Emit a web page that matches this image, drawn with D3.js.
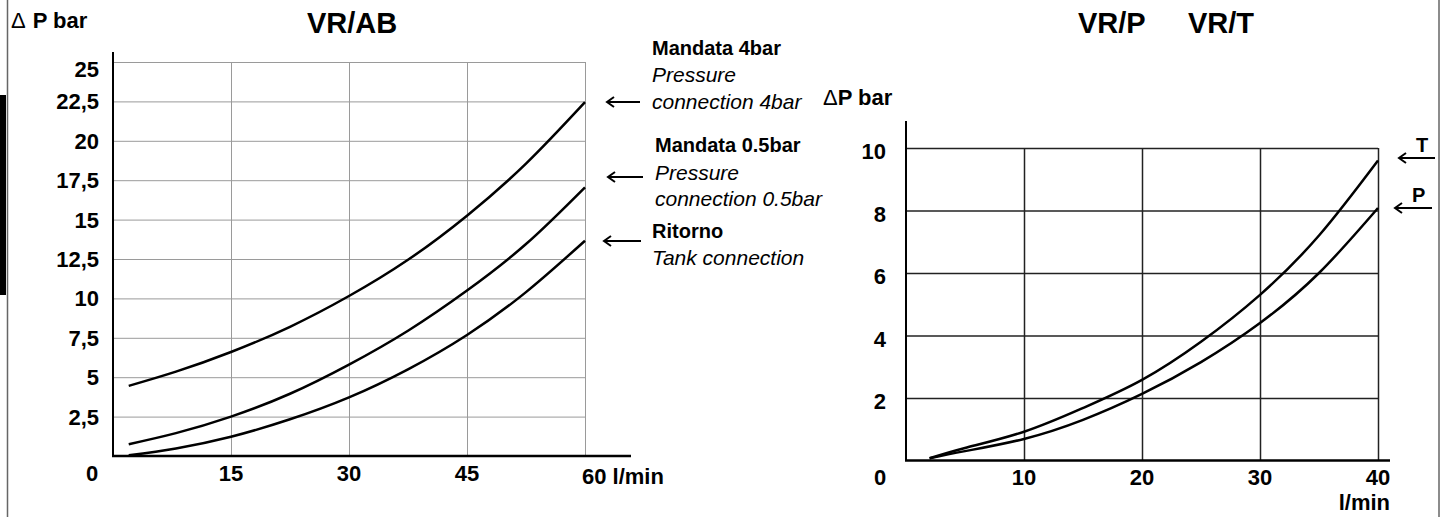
<!DOCTYPE html>
<html>
<head>
<meta charset="utf-8">
<script src="https://cdn.jsdelivr.net/npm/d3@7"></script>
<style>
  html,body{margin:0;padding:0;background:#fff;}
  svg{display:block;}
  text{font-family:"Liberation Sans",Arial,Helvetica,sans-serif;fill:#000;}
</style>
</head>
<body>
<svg id="chart" width="1444" height="517"></svg>
<script>
// ---------- data: VR/AB ----------
const flowAB = [2, 8, 15, 22.5, 30, 37.5, 45, 52.5, 60];
const mandata4 = [4.45, 5.35, 6.6, 8.2, 10.15, 12.45, 15.25, 18.55, 22.45];
const mandata05 = [0.75, 1.45, 2.5, 3.95, 5.8, 7.95, 10.5, 13.45, 17.05];
const ritorno = [0.05, 0.48, 1.22, 2.33, 3.72, 5.5, 7.68, 10.4, 13.66];
const yTicksAB = [2.5, 5, 7.5, 10, 12.5, 15, 17.5, 20, 22.5, 25];
const xTicksAB = [15, 30, 45, 60];

// ---------- data: VR/P VR/T ----------
const flowPT = [2, 5, 10, 15, 20, 25, 30, 35, 40];
const lineT = [0.07, 0.4, 0.92, 1.68, 2.58, 3.8, 5.3, 7.2, 9.6];
const lineP = [0.07, 0.3, 0.69, 1.3, 2.13, 3.15, 4.4, 6.0, 8.08];
const yTicksPT = [2, 4, 6, 8, 10];
const xTicksPT = [10, 20, 30, 40];

const svg = d3.select("#chart");
const FONT = 22;
const ANN = 21;
const TITLE = 29;
const comma = v => String(v).replace(".", ",");

// page border
svg.append("line").attr("x1", 7.5).attr("x2", 7.5).attr("y1", 0).attr("y2", 517)
  .attr("stroke", "#666").attr("stroke-width", 1.5);
svg.append("rect").attr("x", 0).attr("y", 95).attr("width", 6).attr("height", 200).attr("fill", "#000");
svg.append("line").attr("x1", 1439).attr("x2", 1439).attr("y1", 0).attr("y2", 517)
  .attr("stroke", "#666").attr("stroke-width", 1.5);

function arrow(g, x1, x2, y) {
  g.append("line").attr("x1", x1).attr("x2", x2).attr("y1", y).attr("y2", y)
    .attr("stroke", "#000").attr("stroke-width", 2);
  g.append("path").attr("d", `M${x1 + 7},${y - 5} L${x1},${y} L${x1 + 7},${y + 5}`)
    .attr("fill", "none").attr("stroke", "#000").attr("stroke-width", 2);
}

// ================= LEFT CHART =================
const xL = d3.scaleLinear().domain([0, 60]).range([113, 585]);
const yL = d3.scaleLinear().domain([0, 25]).range([456, 62]);
const gL = svg.append("g");

gL.append("g").attr("transform", `translate(${xL(0)},0)`)
  .call(d3.axisLeft(yL).tickValues(yTicksAB).tickSize(-(xL(60) - xL(0))).tickFormat(""))
  .call(g => g.select(".domain").remove())
  .call(g => g.selectAll(".tick line").attr("stroke", "#9a9a9a").attr("stroke-width", 1));
gL.append("g").attr("transform", `translate(0,${yL(0)})`)
  .call(d3.axisBottom(xL).tickValues(xTicksAB).tickSize(-(yL(0) - yL(25))).tickFormat(""))
  .call(g => g.select(".domain").remove())
  .call(g => g.selectAll(".tick line").attr("stroke", "#9a9a9a").attr("stroke-width", 1));

gL.append("line").attr("x1", xL(0)).attr("x2", xL(0)).attr("y1", 52).attr("y2", yL(0))
  .attr("stroke", "#000").attr("stroke-width", 2);
gL.append("line").attr("x1", xL(0) - 1).attr("x2", 631).attr("y1", yL(0)).attr("y2", yL(0))
  .attr("stroke", "#000").attr("stroke-width", 2.5);

gL.selectAll("text.ytl").data(yTicksAB).enter().append("text")
  .attr("x", 99).attr("y", d => yL(d) + 8 + (d === 25 ? 7 : 0))
  .attr("text-anchor", "end").attr("font-weight", "bold").attr("font-size", FONT)
  .text(comma);
gL.selectAll("text.xtl").data(xTicksAB).enter().append("text")
  .attr("x", d => d === 60 ? xL(d) - 3 : xL(d)).attr("y", d => d === 60 ? 484 : 481)
  .attr("text-anchor", d => d === 60 ? "start" : "middle")
  .attr("font-weight", "bold").attr("font-size", FONT)
  .text(d => d === 60 ? d + " l/min" : d);
gL.append("text").attr("x", 92).attr("y", 481).attr("text-anchor", "middle")
  .attr("font-weight", "bold").attr("font-size", FONT).text("0");

const lineL = d3.line().x(d => xL(d[0])).y(d => yL(d[1])).curve(d3.curveNatural);
[mandata4, mandata05, ritorno].forEach(s => {
  gL.append("path").datum(flowAB.map((f, i) => [f, s[i]])).attr("d", lineL)
    .attr("fill", "none").attr("stroke", "#000").attr("stroke-width", 2.5);
});

svg.append("text").attr("x", 11).attr("y", 28).attr("font-size", FONT).attr("font-weight", "bold")
  .call(t => { t.append("tspan").attr("font-weight", "normal").text("\u0394"); t.append("tspan").attr("dx", 7).text("P bar"); });
svg.append("text").attr("x", 352).attr("y", 33).attr("text-anchor", "middle")
  .attr("font-size", TITLE).attr("font-weight", "bold").text("VR/AB");

const ann = [
  { t: "Mandata 4bar", x: 652, y: 48, b: true },
  { t: "Pressure", x: 652, y: 75, b: false },
  { t: "connection 4bar", x: 652, y: 102, b: false },
  { t: "Mandata 0.5bar", x: 655, y: 145, b: true },
  { t: "Pressure", x: 655, y: 173, b: false },
  { t: "connection 0.5bar", x: 655, y: 199, b: false },
  { t: "Ritorno", x: 652, y: 231, b: true },
  { t: "Tank connection", x: 652, y: 258, b: false }
];
svg.selectAll("text.ann").data(ann).enter().append("text")
  .attr("x", d => d.x).attr("y", d => d.y + 7).attr("font-size", d => d.b ? 20 : ANN)
  .attr("font-weight", d => d.b ? "bold" : "normal")
  .attr("font-style", d => d.b ? "normal" : "italic")
  .text(d => d.t);
arrow(svg, 607, 640, 102);
arrow(svg, 608, 643, 177);
arrow(svg, 604, 641, 241);

// ================= RIGHT CHART =================
const xR = d3.scaleLinear().domain([0, 40]).range([906, 1378]);
const yR = d3.scaleLinear().domain([0, 10]).range([460.5, 148]);
const gR = svg.append("g");

gR.append("g").attr("transform", `translate(${xR(0)},0)`)
  .call(d3.axisLeft(yR).tickValues(yTicksPT).tickSize(-(xR(40) - xR(0))).tickFormat(""))
  .call(g => g.select(".domain").remove())
  .call(g => g.selectAll(".tick line").attr("stroke", "#222").attr("stroke-width", 1.5));
gR.append("g").attr("transform", `translate(0,${yR(0)})`)
  .call(d3.axisBottom(xR).tickValues(xTicksPT).tickSize(-(yR(0) - yR(10))).tickFormat(""))
  .call(g => g.select(".domain").remove())
  .call(g => g.selectAll(".tick line").attr("stroke", "#222").attr("stroke-width", 1.5));

gR.append("line").attr("x1", xR(0)).attr("x2", xR(0)).attr("y1", 121).attr("y2", yR(0))
  .attr("stroke", "#000").attr("stroke-width", 2);
gR.append("line").attr("x1", xR(0) - 1).attr("x2", 1390).attr("y1", yR(0)).attr("y2", yR(0))
  .attr("stroke", "#000").attr("stroke-width", 2.5);

gR.selectAll("text.ytl").data(yTicksPT).enter().append("text")
  .attr("x", 886).attr("y", d => yR(d) + 11)
  .attr("text-anchor", "end").attr("font-weight", "bold").attr("font-size", FONT)
  .text(d => d);
gR.selectAll("text.xtl").data(xTicksPT).enter().append("text")
  .attr("x", d => xR(d)).attr("y", 485)
  .attr("text-anchor", "middle").attr("font-weight", "bold").attr("font-size", FONT)
  .text(d => d);
gR.append("text").attr("x", 880).attr("y", 485).attr("text-anchor", "middle")
  .attr("font-weight", "bold").attr("font-size", FONT).text("0");
gR.append("text").attr("x", 1390).attr("y", 510).attr("text-anchor", "end")
  .attr("font-weight", "bold").attr("font-size", FONT).text("l/min");

const lineRg = d3.line().x(d => xR(d[0])).y(d => yR(d[1])).curve(d3.curveNatural);
[lineT, lineP].forEach(s => {
  gR.append("path").datum(flowPT.map((f, i) => [f, s[i]])).attr("d", lineRg)
    .attr("fill", "none").attr("stroke", "#000").attr("stroke-width", 2.5);
});

svg.append("text").attr("x", 823).attr("y", 105).attr("font-size", FONT).attr("font-weight", "bold")
  .call(t => { t.append("tspan").attr("font-weight", "normal").text("\u0394"); t.append("tspan").text("P bar"); });
svg.append("text").attr("x", 1078).attr("y", 33).attr("font-size", TITLE).attr("font-weight", "bold").text("VR/P");
svg.append("text").attr("x", 1188).attr("y", 33).attr("font-size", TITLE).attr("font-weight", "bold").text("VR/T");

svg.append("text").attr("x", 1416).attr("y", 152).attr("font-size", 20).attr("font-weight", "bold").text("T");
arrow(svg, 1399, 1435, 158);
svg.append("text").attr("x", 1412).attr("y", 202).attr("font-size", 20).attr("font-weight", "bold").text("P");
arrow(svg, 1395, 1432, 208);
</script>
</body>
</html>
